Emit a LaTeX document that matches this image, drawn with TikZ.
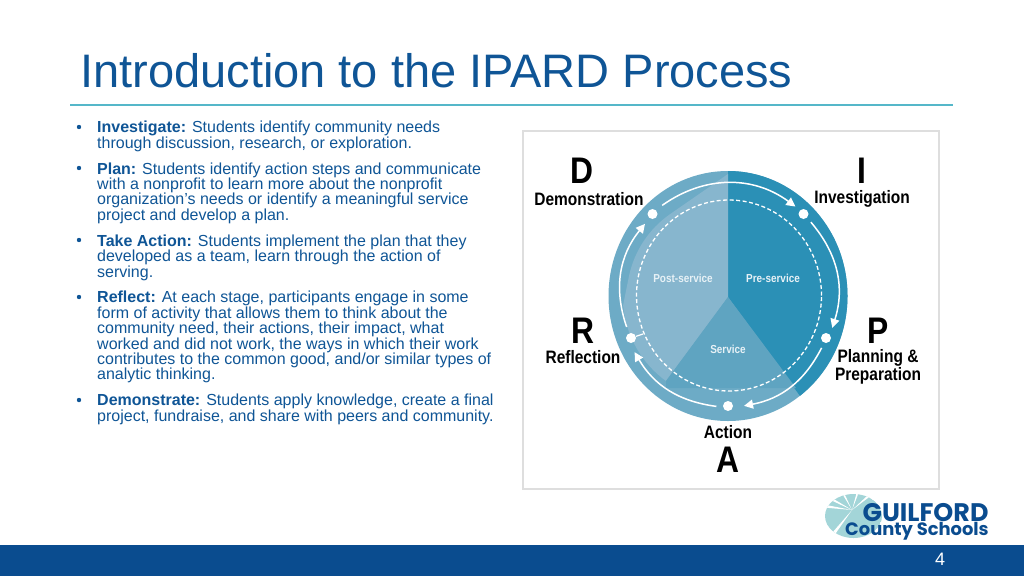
\documentclass[tikz,border=0pt]{standalone}
\usepackage{fontspec}
\setmainfont{Liberation Sans}
\newfontfamily\dipfont[FakeStretch=0.86]{Liberation Sans}
\newfontfamily\logofont{Poppins}
\usetikzlibrary{arrows.meta}
\definecolor{slideblue}{HTML}{0A4C8F}
\definecolor{titleblue}{HTML}{0F5596}
\definecolor{rulecol}{HTML}{55B7C9}
\definecolor{darkseg}{HTML}{2B90B6}
\definecolor{midseg}{HTML}{5FA4C1}
\definecolor{lightseg}{HTML}{87B6CE}
\definecolor{ringcol}{HTML}{6DABC6}
\definecolor{logoteal}{HTML}{A3D5D8}
\tikzset{
  bullettext/.style={anchor=north west,inner sep=0pt,align=left,text=titleblue,font=\fontsize{16}{15.4}\selectfont},
  bulletdot/.style={circle,fill=titleblue,inner sep=0pt,minimum size=4.4pt},
  dipletter/.style={inner sep=0pt,font=\dipfont\bfseries\fontsize{37}{37}\selectfont},
  dipword/.style={inner sep=0pt,align=center,font=\dipfont\bfseries\fontsize{18}{18.6}\selectfont},
  segtext/.style={inner sep=0pt,text=white!85!midseg,font=\dipfont\bfseries\fontsize{11.6}{12}\selectfont},
  ringdot/.style={circle,fill=white,inner sep=0pt,minimum size=10pt},
  ringarrow/.style={white,line width=1.5pt,-{Triangle[length=9pt,width=9pt]}}
}
\begin{document}
\begin{tikzpicture}[x=1pt,y=1pt]
     \useasboundingbox (0,0) rectangle (1024,-576);
     \fill[white] (0,0) rectangle (1024,-576);
     \node[anchor=west,inner sep=0pt,text=titleblue,font=\fontsize{47}{47}\selectfont] (title) at (80,-71) {Introduction to the IPARD Process};
     \draw[rulecol,line width=1.2pt] (70,-105) -- (953,-105);
     \fill[slideblue] (0,-545) rectangle (1024,-576);
     \node[text=white,inner sep=0pt,font=\fontsize{18}{18}\selectfont] (pagenum) at (940,-559) {4};

     \foreach \name/\ypos in {a/127,b/168,c/240,d/297,e/400}
       \node[bulletdot] (dot\name) at (79,-\ypos) {};
     \node[bullettext] (investigate) at (97,-121) {\textbf{Investigate:} Students identify community needs\\through discussion, research, or exploration.};
     \node[bullettext] (plan) at (97,-162.4) {\textbf{Plan:} Students identify action steps and communicate\\with a nonprofit to learn more about the nonprofit\\organization’s needs or identify a meaningful service\\project and develop a plan.};
     \node[bullettext] (takeaction) at (97,-234.4) {\textbf{Take Action:} Students implement the plan that they\\developed as a team, learn through the action of\\serving.};
     \node[bullettext] (reflect) at (97,-291) {\textbf{Reflect:} At each stage, participants engage in some\\form of activity that allows them to think about the\\community need, their actions, their impact, what\\worked and did not work, the ways in which their work\\contributes to the common good, and/or similar types of\\analytic thinking.};
     \node[bullettext] (demonstrate) at (97,-394) {\textbf{Demonstrate:} Students apply knowledge, create a final\\project, fundraise, and share with peers and community.};

     \draw[black!13,line width=2pt,fill=white] (523,-131) rectangle (939,-489);
     \begin{scope}[shift={(728,-296)}]
      \fill[ringcol] (0,0) circle[x radius=119.5,y radius=125];
      \fill[darkseg] (0,-1) -- (0,125) arc[start angle=90,end angle=-53,x radius=119.5,y radius=125] -- cycle;
      \fill[lightseg] (0,-1) -- (-62,-85) arc[start angle=-126,end angle=-175,radius=105] -- (-99,20) arc[start angle=168,end angle=125,radius=101] -- (0,122) -- cycle;
      \fill[midseg] (0,-1) -- (-62,-85) -- (-62,-92) -- (68,-92) -- cycle;
      \draw[white,line width=1.3pt,dash pattern=on 4pt off 2.5pt] (1,0.5) circle[x radius=92.5,y radius=95.5];
      \node[segtext] (postservice) at (-45,18) {Post-service};
      \node[segtext] (preservice) at (45,18) {Pre-service};
      \node[segtext] (service) at (0,-53) {Service};
      \node[ringdot] (dotI) at (75.5,82) {};
      \node[ringdot] (dotP) at (98,-42) {};
      \node[ringdot] (dotA) at (0,-110) {};
      \node[ringdot] (dotR) at (-97,-42) {};
      \node[ringdot] (dotD) at (-75.5,82) {};
      \coordinate (stubR) at (-85,-38);
      \coordinate (startDI) at (126:112);
      \coordinate (endDI) at (53:112);
      \coordinate (startIP) at (41.7:111);
      \coordinate (endIP) at (-17:109);
      \coordinate (startPA) at (-29:107);
      \coordinate (endPA) at (-81.7:111);
      \coordinate (startAR) at (-96:111);
      \coordinate (endAR) at (-149:109);
      \coordinate (startRD) at (197:106);
      \coordinate (endRD) at (139:110);
      \draw[white,line width=1.2pt] (dotR) -- (stubR);
      \draw[ringarrow] (startDI) to[bend left=36] (endDI);
      \draw[ringarrow] (startIP) to[bend left=29] (endIP);
      \draw[ringarrow] (startPA) to[bend left=26] (endPA);
      \draw[ringarrow] (startAR) to[bend left=26] (endAR);
      \draw[ringarrow] (startRD) to[bend left=29] (endRD);
     \end{scope}
     \node[dipletter] (letterD) at (582,-171) {D};
     \node[dipword] (wordD) at (589,-199) {Demonstration};
     \node[dipletter] (letterI) at (862,-171) {I};
     \node[dipword] (wordI) at (862,-199) {Investigation};
     \node[dipletter] (letterP) at (878,-331) {P};
     \node[dipword] (wordP) at (878,-367) {Planning \&\\Preparation};
     \node[dipletter] (letterR) at (583,-331) {R};
     \node[dipword] (wordR) at (583,-357.5) {Reflection};
     \node[dipword] (wordA) at (728,-432) {Action};
     \node[dipletter] (letterA) at (728,-460) {A};

     \begin{scope}
      \clip (853.5,-516) circle[x radius=28.5,y radius=22];
      \fill[logoteal] (853.5,-516) circle[x radius=28.5,y radius=22];
      \foreach \ang in {172,152,118,72,40,-128}
        \fill[white] (852,-510) -- +({\ang-3}:40) -- +({\ang+3}:40) -- cycle;
     \end{scope}
     \node[anchor=west,inner sep=0pt,text=slideblue,font=\logofont\bfseries\fontsize{25.4}{25.4}\selectfont] (logotop) at (862.5,-512.5) {GUILFORD};
     \node[anchor=west,inner sep=0pt,text=slideblue,font=\logofont\bfseries\fontsize{17.9}{17.9}\selectfont] (logobottom) at (845,-531.5) {County Schools};
\end{tikzpicture}
\end{document}
